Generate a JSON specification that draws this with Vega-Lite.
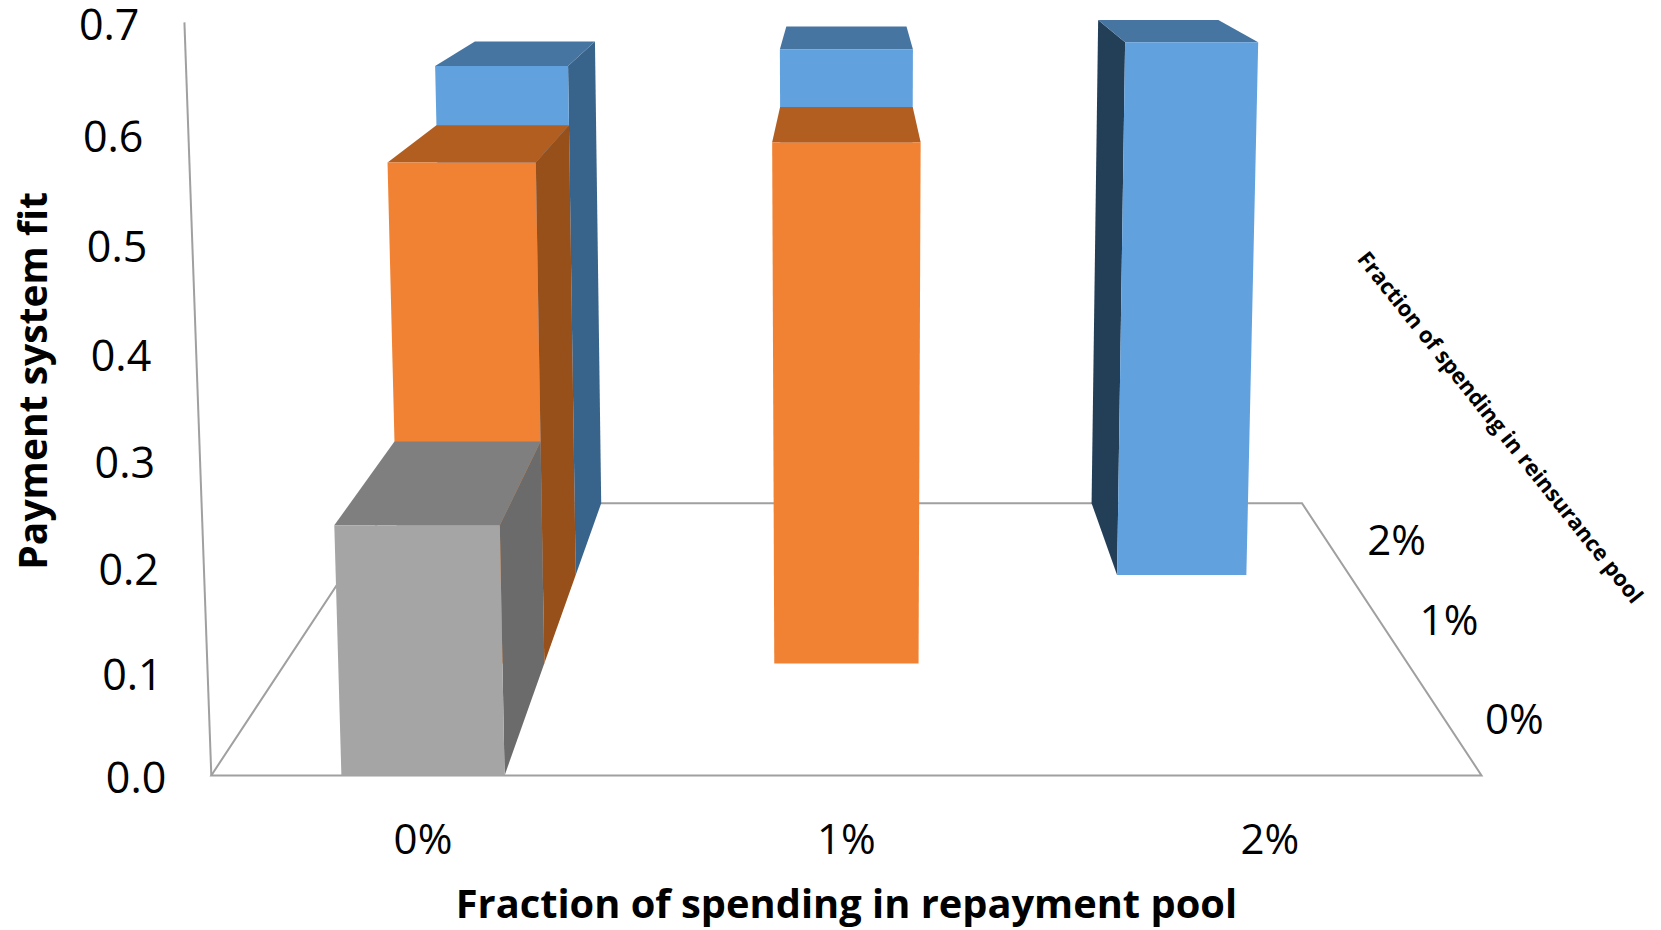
{
  "$schema": "https://vega.github.io/schema/vega-lite/v6.json",
  "width": 1661,
  "height": 930,
  "padding": 0,
  "autosize": {"type": "fit", "contains": "padding"},
  "background": "white",
  "config": {"view": {"stroke": null}},
  "params": [
    {"name": "cx", "value": 846.4},
    {"name": "ax", "value": 635.1},
    {"name": "by", "value": 775.4},
    {"name": "cy", "value": -1077},
    {"name": "dy0", "value": -73.9},
    {"name": "ew", "value": 0.394},
    {"name": "fw", "value": -0.058}
  ],
  "datasets": {
    "bars": [
      {"repayment": "0%", "reinsurance": "2%", "fit": 0.599},
      {"repayment": "1%", "reinsurance": "2%", "fit": 0.618},
      {"repayment": "2%", "reinsurance": "2%", "fit": 0.626},
      {"repayment": "0%", "reinsurance": "1%", "fit": 0.531},
      {"repayment": "1%", "reinsurance": "1%", "fit": 0.552},
      {"repayment": "0%", "reinsurance": "0%", "fit": 0.239}
    ],
    "frame": [
      {"edge": "floor", "step": 0, "across": -1, "deep": 1, "height": 0},
      {"edge": "floor", "step": 1, "across": -1, "deep": 0, "height": 0},
      {"edge": "floor", "step": 2, "across": 1, "deep": 0, "height": 0},
      {"edge": "floor", "step": 3, "across": 1, "deep": 1, "height": 0},
      {"edge": "floor", "step": 4, "across": -1, "deep": 1, "height": 0},
      {"edge": "wall", "step": 0, "across": -1, "deep": 0, "height": 0},
      {"edge": "wall", "step": 1, "across": -1, "deep": 0, "height": 0.7}
    ],
    "labels": [
      {"kind": "tick", "label": "0.0", "across": -1, "deep": 0, "height": 0},
      {"kind": "tick", "label": "0.1", "across": -1, "deep": 0, "height": 0.1},
      {"kind": "tick", "label": "0.2", "across": -1, "deep": 0, "height": 0.2},
      {"kind": "tick", "label": "0.3", "across": -1, "deep": 0, "height": 0.3},
      {"kind": "tick", "label": "0.4", "across": -1, "deep": 0, "height": 0.4},
      {"kind": "tick", "label": "0.5", "across": -1, "deep": 0, "height": 0.5},
      {"kind": "tick", "label": "0.6", "across": -1, "deep": 0, "height": 0.6},
      {"kind": "tick", "label": "0.7", "across": -1, "deep": 0, "height": 0.7},
      {"kind": "repayment", "label": "0%", "across": -0.6667, "deep": 0, "height": 0},
      {"kind": "repayment", "label": "1%", "across": 0, "deep": 0, "height": 0},
      {"kind": "repayment", "label": "2%", "across": 0.6667, "deep": 0, "height": 0},
      {"kind": "reinsurance", "label": "0%", "across": 1, "deep": 0.1667, "height": 0},
      {"kind": "reinsurance", "label": "1%", "across": 1, "deep": 0.5, "height": 0},
      {"kind": "reinsurance", "label": "2%", "across": 1, "deep": 0.8333, "height": 0},
      {"kind": "xtitle", "label": "Fraction of spending in repayment pool", "across": 0, "deep": 0, "height": 0},
      {"kind": "ytitle", "label": "Payment system fit", "across": -1.2496, "deep": 0, "height": 0.374},
      {"kind": "ztitle", "label": "Fraction of spending in reinsurance pool", "across": 1.428, "deep": 1, "height": 0.1}
    ]
  },
  "layer": [
    {
      "data": {"name": "frame"},
      "transform": [
        {"calculate": "1 + ew * datum.deep + fw * datum.height", "as": "w"},
        {"calculate": "cx + ax * datum.across / datum.w", "as": "sx"},
        {"calculate": "(by + cy * datum.height + dy0 * datum.deep) / datum.w", "as": "sy"}
      ],
      "mark": {"type": "line", "stroke": "#a0a0a0", "strokeWidth": 2},
      "encoding": {
        "x": {"field": "sx", "type": "quantitative", "scale": {"domain": [0, 1661], "nice": false, "zero": false}, "axis": null},
        "y": {"field": "sy", "type": "quantitative", "scale": {"domain": [930, 0], "nice": false, "zero": false}, "axis": null},
        "detail": {"field": "edge"},
        "order": {"field": "step", "type": "quantitative"}
      }
    },
    {
      "data": {"name": "bars"},
      "transform": [
        {"calculate": "indexof(['0%','1%','2%'], datum.repayment)", "as": "col"},
        {"calculate": "indexof(['0%','1%','2%'], datum.reinsurance)", "as": "row"},
        {"calculate": "[{f:'right',n:0,u:1,h:0,d:0},{f:'right',n:1,u:1,h:1,d:0},{f:'right',n:2,u:1,h:1,d:1},{f:'right',n:3,u:1,h:0,d:1},{f:'left',n:0,u:0,h:0,d:0},{f:'left',n:1,u:0,h:1,d:0},{f:'left',n:2,u:0,h:1,d:1},{f:'left',n:3,u:0,h:0,d:1},{f:'top',n:0,u:0,h:1,d:0},{f:'top',n:1,u:1,h:1,d:0},{f:'top',n:2,u:1,h:1,d:1},{f:'top',n:3,u:0,h:1,d:1},{f:'front',n:0,u:0,h:0,d:0},{f:'front',n:1,u:1,h:0,d:0},{f:'front',n:2,u:1,h:1,d:0},{f:'front',n:3,u:0,h:1,d:0}]", "as": "corner"},
        {"flatten": ["corner"]},
        {"filter": "(datum.corner.f != 'right' || datum.col == 0) && (datum.corner.f != 'left' || datum.col == 2)"},
        {"calculate": "datum.repayment + datum.reinsurance + datum.corner.f", "as": "faceId"},
        {"calculate": "datum.reinsurance + ' ' + datum.corner.f", "as": "shade"},
        {"calculate": "datum.corner.n", "as": "vertex"},
        {"calculate": "(datum.col - 1) * 2 / 3 + (datum.corner.u ? 0.1285 : -0.1285)", "as": "across"},
        {"calculate": "(datum.row + datum.corner.d) / 3", "as": "deep"},
        {"calculate": "datum.corner.h * datum.fit", "as": "height"},
        {"calculate": "1 + ew * datum.deep + fw * datum.height", "as": "w"},
        {"calculate": "cx + ax * datum.across / datum.w", "as": "sx"},
        {"calculate": "(by + cy * datum.height + dy0 * datum.deep) / datum.w", "as": "sy"}
      ],
      "mark": {"type": "line", "interpolate": "linear-closed", "strokeWidth": 0},
      "encoding": {
        "x": {"field": "sx", "type": "quantitative", "axis": null},
        "y": {"field": "sy", "type": "quantitative", "axis": null},
        "detail": {"field": "faceId"},
        "order": {"field": "vertex", "type": "quantitative"},
        "fill": {
          "field": "shade",
          "type": "nominal",
          "legend": null,
          "scale": {
            "domain": ["2% front", "2% top", "2% right", "2% left", "1% front", "1% top", "1% right", "0% front", "0% top", "0% right"],
            "range": ["#61a1dd", "#4675a2", "#38638a", "#233f58", "#f18233", "#b35e21", "#975019", "#a5a5a5", "#7f7f7f", "#6b6b6b"]
          }
        }
      }
    },
    {
      "data": {"name": "labels"},
      "transform": [
        {"filter": "datum.kind == 'tick'"},
        {"calculate": "1 + ew * datum.deep + fw * datum.height", "as": "w"},
        {"calculate": "cx + ax * datum.across / datum.w", "as": "sx"},
        {"calculate": "(by + cy * datum.height + dy0 * datum.deep) / datum.w", "as": "sy"}
      ],
      "mark": {"type": "text", "font": "Open Sans", "fontSize": 43, "align": "right", "baseline": "middle", "dx": -45, "dy": 5, "color": "#000000"},
      "encoding": {
        "x": {"field": "sx", "type": "quantitative", "axis": null},
        "y": {"field": "sy", "type": "quantitative", "axis": null},
        "text": {"field": "label"}
      }
    },
    {
      "data": {"name": "labels"},
      "transform": [
        {"filter": "datum.kind == 'repayment'"},
        {"calculate": "1 + ew * datum.deep + fw * datum.height", "as": "w"},
        {"calculate": "cx + ax * datum.across / datum.w", "as": "sx"},
        {"calculate": "(by + cy * datum.height + dy0 * datum.deep) / datum.w", "as": "sy"}
      ],
      "mark": {"type": "text", "font": "Open Sans", "fontSize": 42, "align": "center", "baseline": "middle", "dy": 66, "color": "#000000"},
      "encoding": {
        "x": {"field": "sx", "type": "quantitative", "axis": null},
        "y": {"field": "sy", "type": "quantitative", "axis": null},
        "text": {"field": "label"}
      }
    },
    {
      "data": {"name": "labels"},
      "transform": [
        {"filter": "datum.kind == 'reinsurance'"},
        {"calculate": "1 + ew * datum.deep + fw * datum.height", "as": "w"},
        {"calculate": "cx + ax * datum.across / datum.w", "as": "sx"},
        {"calculate": "(by + cy * datum.height + dy0 * datum.deep) / datum.w", "as": "sy"}
      ],
      "mark": {"type": "text", "font": "Open Sans", "fontSize": 42, "align": "center", "baseline": "middle", "dx": 72, "dy": 5, "color": "#000000"},
      "encoding": {
        "x": {"field": "sx", "type": "quantitative", "axis": null},
        "y": {"field": "sy", "type": "quantitative", "axis": null},
        "text": {"field": "label"}
      }
    },
    {
      "data": {"name": "labels"},
      "transform": [
        {"filter": "datum.kind == 'xtitle'"},
        {"calculate": "1 + ew * datum.deep + fw * datum.height", "as": "w"},
        {"calculate": "cx + ax * datum.across / datum.w", "as": "sx"},
        {"calculate": "(by + cy * datum.height + dy0 * datum.deep) / datum.w", "as": "sy"}
      ],
      "mark": {"type": "text", "font": "Open Sans", "fontWeight": "bold", "fontSize": 39.8, "align": "center", "baseline": "middle", "dy": 131, "color": "#000000"},
      "encoding": {
        "x": {"field": "sx", "type": "quantitative", "axis": null},
        "y": {"field": "sy", "type": "quantitative", "axis": null},
        "text": {"field": "label"}
      }
    },
    {
      "data": {"name": "labels"},
      "transform": [
        {"filter": "datum.kind == 'ytitle'"},
        {"calculate": "1 + ew * datum.deep + fw * datum.height", "as": "w"},
        {"calculate": "cx + ax * datum.across / datum.w", "as": "sx"},
        {"calculate": "(by + cy * datum.height + dy0 * datum.deep) / datum.w", "as": "sy"}
      ],
      "mark": {"type": "text", "font": "Open Sans", "fontWeight": "bold", "fontSize": 39, "align": "center", "baseline": "middle", "angle": -90, "color": "#000000"},
      "encoding": {
        "x": {"field": "sx", "type": "quantitative", "axis": null},
        "y": {"field": "sy", "type": "quantitative", "axis": null},
        "text": {"field": "label"}
      }
    },
    {
      "data": {"name": "labels"},
      "transform": [
        {"filter": "datum.kind == 'ztitle'"},
        {"calculate": "1 + ew * datum.deep + fw * datum.height", "as": "w"},
        {"calculate": "cx + ax * datum.across / datum.w", "as": "sx"},
        {"calculate": "(by + cy * datum.height + dy0 * datum.deep) / datum.w", "as": "sy"}
      ],
      "mark": {"type": "text", "font": "Open Sans", "fontWeight": "bold", "fontSize": 22, "align": "center", "baseline": "middle", "angle": 51.4, "color": "#000000"},
      "encoding": {
        "x": {"field": "sx", "type": "quantitative", "axis": null},
        "y": {"field": "sy", "type": "quantitative", "axis": null},
        "text": {"field": "label"}
      }
    }
  ]
}
